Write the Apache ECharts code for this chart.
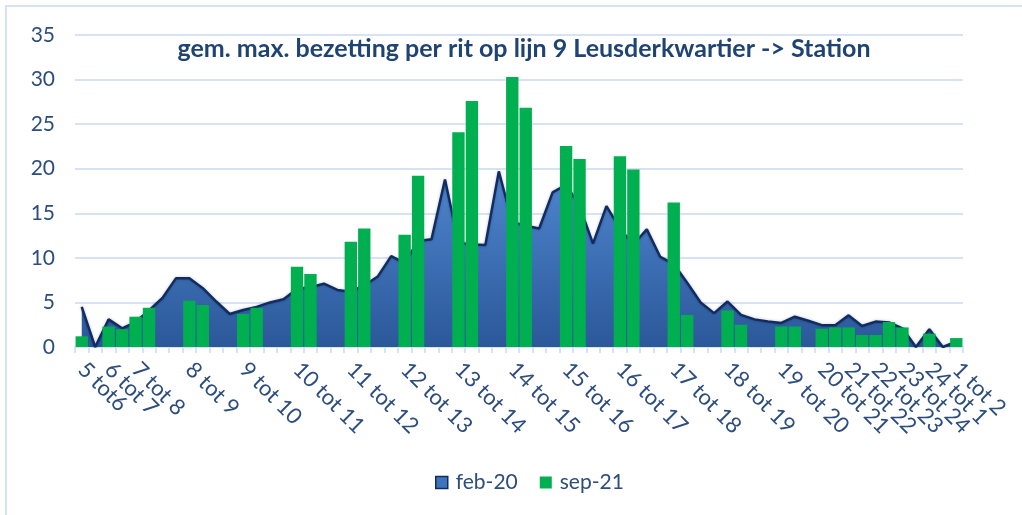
<!DOCTYPE html>
<html>
<head>
<meta charset="utf-8">
<script src="https://cdn.jsdelivr.net/npm/echarts@6.0.0/dist/echarts.min.js"></script>
<style>
    html, body { margin: 0; padding: 0; background: #fff; }
    #chart { width: 1022px; height: 515px; }
</style>
</head>
<body>
<div id="chart"></div>
<script>
// categorie-labels (alleen het eerste rit-slot van elk uur heeft een label)
const hourLabels = [
    '5 tot6', '', '6 tot 7', '', '7 tot 8', '', '', '',
    '8 tot 9', '', '', '', '9 tot 10', '', '', '',
    '10 tot 11', '', '', '', '11 tot 12', '', '', '',
    '12 tot 13', '', '', '', '13 tot 14', '', '', '',
    '14 tot 15', '', '', '', '15 tot 16', '', '', '',
    '16 tot 17', '', '', '', '17 tot 18', '', '', '',
    '18 tot 19', '', '', '', '19 tot 20', '', '',
    '20 tot 21', '', '21 tot 22', '', '22 tot 23', '',
    '23 tot 24', '', '24 tot 1', '', '1 tot 2'
];

// feb-20: gem. max. bezetting (vlak)
const feb20 = [
    4.5, 0, 3.1, 2.1, 2.8, 4.1, 5.5, 7.7,
    7.7, 6.6, 5.1, 3.7, 4.15, 4.5, 5.0, 5.35,
    6.5, 6.7, 7.1, 6.4, 6.2, 6.9, 7.9, 10.2,
    9.4, 11.9, 12.1, 18.8, 11.7, 11.5, 11.45, 19.7,
    14.0, 13.6, 13.3, 17.35, 18.2, 15.8, 11.6, 15.8,
    13.3, 11.5, 13.2, 10.1, 9.3, 7.2, 5.0, 3.8,
    5.1, 3.6, 3.1, 2.85, 2.7, 3.4, 2.95,
    2.45, 2.45, 3.55, 2.35, 2.85, 2.75,
    2.1, 0, 2.0, 0, 0.6
];

// sep-21: gem. max. bezetting (staven), null = geen rit
const sep21 = [
    1.2, null, 2.3, 2.0, 3.4, 4.4, null, null,
    5.2, 4.7, null, null, 3.7, 4.4, null, null,
    9.0, 8.2, null, null, 11.8, 13.3, null, null,
    12.6, 19.2, null, null, 24.1, 27.6, null, null,
    30.3, 26.85, null, null, 22.55, 21.1, null, null,
    21.4, 19.9, null, null, 16.2, 3.6, null, null,
    4.1, 2.5, null, null, 2.3, 2.3, null,
    2.05, 2.2, 2.2, 1.35, 1.35, 2.8,
    2.2, null, 1.5, null, 1.0
];

const yTicks = { min: 0, max: 35, interval: 5 };

const textColor = '#2c4d7e';
const gridColor = '#d7e3f4';

const chart = echarts.init(document.getElementById('chart'));

const option = {
    animation: false,
    textStyle: { fontFamily: 'Lato' },
    title: {
        text: 'gem. max. bezetting per rit op lijn 9 Leusderkwartier -> Station',
        left: 519,
        textAlign: 'center',
        top: 31,
        textStyle: {
            fontFamily: 'Lato',
            fontSize: 25,
            fontWeight: 'bold',
            color: '#1f4373'
        }
    },
    graphic: [{
        type: 'rect',
        shape: { x: 6, y: 6, width: 1100, height: 600 },
        style: { fill: 'none', stroke: gridColor, lineWidth: 2 },
        silent: true
    }],
    legend: {
        bottom: 17,
        left: 430,
        itemWidth: 12,
        itemHeight: 12,
        itemGap: 22,
        textStyle: {
            fontFamily: 'Lato',
            fontSize: 21,
            color: textColor,
            padding: [0, 0, 0, 3]
        },
        data: [
            {
                name: 'feb-20',
                icon: 'rect',
                itemStyle: { color: '#3f73ba', borderColor: '#0f2c63', borderWidth: 1.5 }
            },
            { name: 'sep-21', icon: 'rect', itemStyle: { color: '#00b050' } }
        ]
    },
    grid: {
        left: 75,
        right: 59,
        top: 35,
        bottom: 168
    },
    xAxis: {
        type: 'category',
        data: hourLabels,
        boundaryGap: true,
        axisLine: { lineStyle: { color: gridColor, width: 2 } },
        axisTick: {
            show: true,
            interval: 0,
            length: 6,
            lineStyle: { color: gridColor, width: 2 }
        },
        axisLabel: {
            interval: 0,
            rotate: -45,
            margin: 19,
            fontFamily: 'Lato',
            fontSize: 22,
            color: textColor
        },
        splitLine: { show: false }
    },
    yAxis: {
        type: 'value',
        min: yTicks.min,
        max: yTicks.max,
        interval: yTicks.interval,
        axisLine: { show: false },
        axisTick: { show: false },
        axisLabel: {
            margin: 20,
            fontFamily: 'Lato',
            fontSize: 21,
            color: textColor
        },
        splitLine: { lineStyle: { color: gridColor, width: 2 } }
    },
    series: [
        {
            name: 'feb-20',
            type: 'line',
            data: feb20,
            z: 2,
            symbol: 'none',
            smooth: false,
            lineStyle: {
                color: '#0f2c63',
                width: 2.5,
                shadowColor: 'rgba(0,0,0,0.25)',
                shadowBlur: 3
            },
            itemStyle: { color: '#3f73ba' },
            areaStyle: {
                opacity: 1,
                color: new echarts.graphic.LinearGradient(0, 0, 0, 1, [
                    { offset: 0, color: '#4f86cf' },
                    { offset: 1, color: '#2b5899' }
                ])
            }
        },
        {
            name: 'sep-21',
            type: 'bar',
            data: sep21,
            z: 5,
            barCategoryGap: '8%',
            itemStyle: { color: '#00b050' }
        }
    ]
};

chart.setOption(option);
</script>
</body>
</html>
